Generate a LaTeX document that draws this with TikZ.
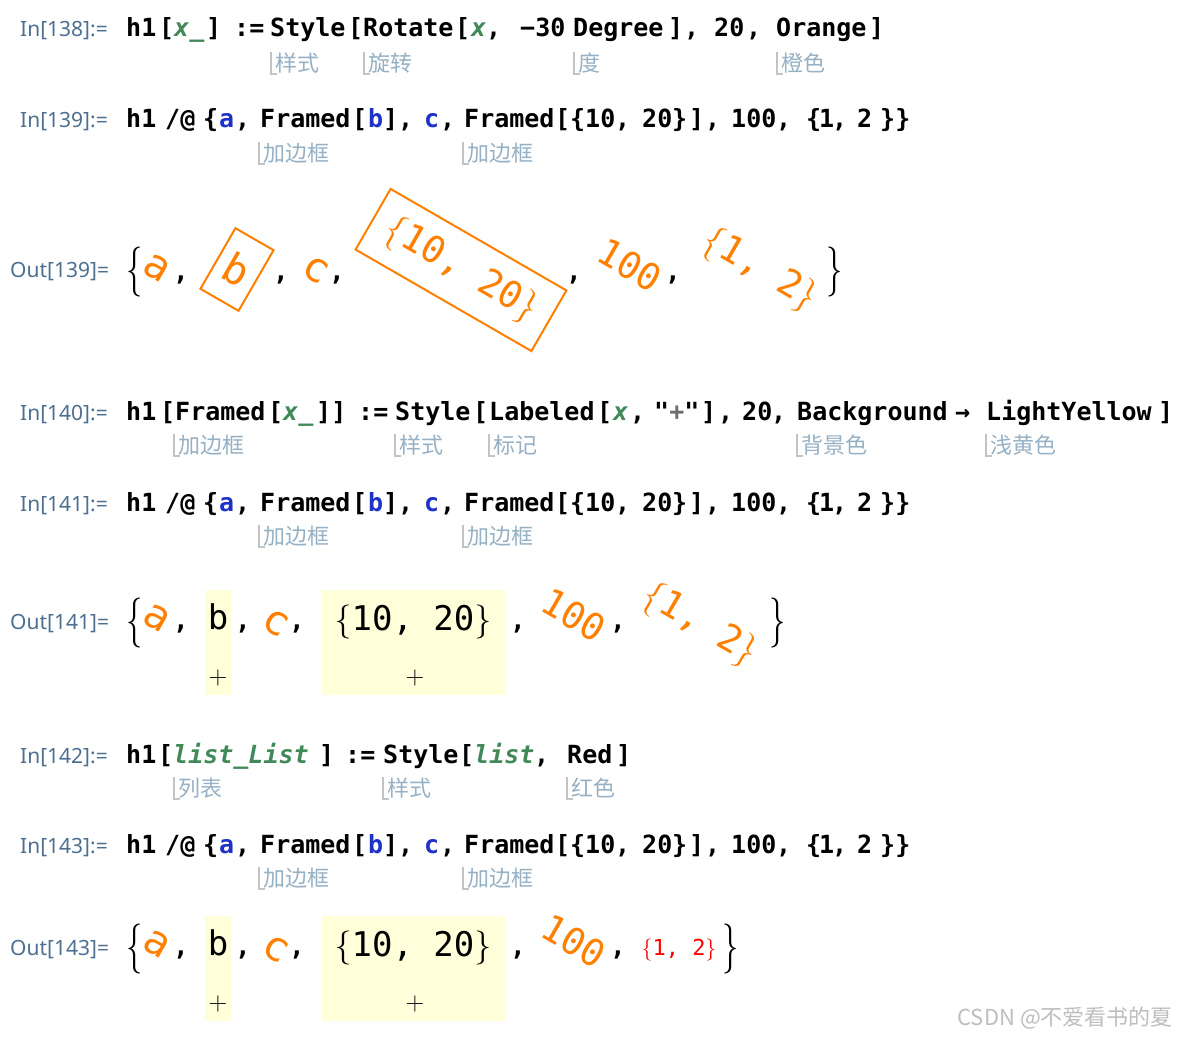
\documentclass[tikz,border=0pt]{standalone}
\usepackage{fontspec}
\newfontfamily\codefont{DejaVu Sans Mono}[BoldFont={DejaVu Sans Mono Bold}, ItalicFont={DejaVu Sans Mono Oblique}, BoldItalicFont={DejaVu Sans Mono Bold Oblique}]
\newfontfamily\labelfont{Noto Sans}
\newfontfamily\cjkfont{Noto Sans CJK SC}

\definecolor{vorange}{RGB}{255,128,0}
\definecolor{vyellow}{RGB}{255,255,217}
\definecolor{vred}{RGB}{255,0,0}
\definecolor{vgreen}{RGB}{66,137,90}
\definecolor{vblue}{RGB}{30,50,200}
\definecolor{lblblue}{RGB}{77,112,145}
\definecolor{notegray}{RGB}{150,176,196}
\definecolor{bargray}{RGB}{195,195,195}
\definecolor{plusgray}{RGB}{110,110,110}

\tikzset{
  code/.style={font={\codefont\bfseries\fontsize{25}{28}\selectfont}, anchor=base west, inner sep=0pt},
  patvar/.style={code, font={\codefont\bfseries\itshape\fontsize{25}{28}\selectfont}, text=vgreen},
  symvar/.style={code, text=vblue},
  cellLabel/.style={font={\labelfont\fontsize{21}{24}\selectfont}, text=lblblue, anchor=base west, inner sep=0pt},
  noteText/.style={font={\cjkfont\fontsize{22}{24}\selectfont}, text=notegray, anchor=west, inner sep=0pt},
  notebar/.style={draw=bargray, line width=2.5pt},
  outtxt/.style={font={\codefont\fontsize{34}{36}\selectfont}, inner sep=0pt},
  turned/.style={font={\codefont\fontsize{37}{40}\selectfont}, inner sep=0pt, text=vorange, rotate=-30},
  bigletter/.style={turned, font={\codefont\fontsize{41}{44}\selectfont}},
  orangebox/.style={draw=vorange, line width=2pt, minimum width=44pt, minimum height=70pt},
  listcomma/.style={font={\codefont\bfseries\fontsize{26}{28}\selectfont}, anchor=base, inner sep=0pt},
  bigbrace/.style={font={\rmfamily\fontsize{50}{50}\selectfont}, inner sep=0pt, xscale=0.65},
  plussign/.style={font={\rmfamily\fontsize{26}{26}\selectfont}, inner sep=0pt},
  watermark/.style={font={\cjkfont\fontsize{22}{24}\selectfont}, text={rgb,255:red,190;green,190;blue,190}, anchor=east, inner sep=0pt}
}

\newcommand{\drawNote}[4]{
   	\draw[notebar] (#2,#3-11) |- (#2+6,#3+11);
   	\node[noteText] (#1) at (#2+4,#3) {#4};
}
\newcommand{\obr}{{\rmfamily\{}}
\newcommand{\cbr}{{\rmfamily\}}}

\begin{document}
\begin{tikzpicture}[x=1pt,y=-1pt]
%%%%%%%%%%%%%%%%%%

\fill[white] (0,0) rectangle (1177,1038);
\useasboundingbox (0,0) rectangle (1177,1038);

%In[138]
\node[cellLabel] (in138) at (20,37) {In[138]:=};
\foreach \x/\t [count=\i] in {126/h1,159/[,206/],234/{:=},270/Style,348/[,363/Rotate,455/[,486/{,},520/−30,573/Degree,668/],684/{,},714/20,746/{,},776/Orange,869/]}
	\node[code] (r138-\i) at (\x,37) {\t};
\node[patvar] (r138-x1) at (174,37) {x\_};
\node[patvar] (r138-x2) at (471,37) {x};
\drawNote{n138-1}{271}{63}{样式}
\drawNote{n138-2}{364}{63}{旋转}
\drawNote{n138-3}{574}{63}{度}
\drawNote{n138-4}{777}{63}{橙色}

%In[139], In[141], In[143]
\foreach \y/\n in {128/139,511/141,853/143}
{
	\node[cellLabel] (in\n) at (20,\y) {In[\n]:=};
	\foreach \x/\t [count=\i] in {126/h1,165/{/@},203/\{,235/{,},260/Framed,352/[,383/],398/{,},440/{,},464/Framed,555/[,570/\{,585/10,615/{,},642/20,672/\},689/],705/{,},731/100,776/{,},806/\{,819/1,832/{,},857/2,880/\}\}}
		\node[code] (r\n-\i) at (\x,\y) {\t};
	\node[symvar] (r\n-a) at (219,\y) {a};
	\node[symvar] (r\n-b) at (368,\y) {b};
	\node[symvar] (r\n-c) at (424,\y) {c};
	\drawNote{n\n-1}{259}{\y+25}{加边框}
	\drawNote{n\n-2}{463}{\y+25}{加边框}
}

%Out[139]
\node[cellLabel] (out139) at (10,277) {Out[139]=};
\node[bigbrace] (o139-l) at (135,272) {\{};
\node[bigletter] (o139-a) at (157,268) {a};
\node[listcomma] (o139-s1) at (181,280) {,};
\node[bigletter, orangebox] (o139-b) at (237,269.5) {b};
\node[listcomma] (o139-s2) at (281,280) {,};
\node[bigletter] (o139-c) at (316,270) {c};
\node[listcomma] (o139-s3) at (337,280) {,};
\node[turned, orangebox, minimum width=203pt] (o139-f) at (461,270) {\obr10, 20\cbr};
\node[listcomma] (o139-s4) at (574,280) {,};
\node[turned] (o139-h) at (630,265) {100};
\node[listcomma] (o139-s5) at (673,280) {,};
\node[turned] (o139-p) at (760,270) {\obr1, 2\cbr};
\node[bigbrace] (o139-r) at (835,272) {\}};

%In[140]
\node[cellLabel] (in140) at (20,420) {In[140]:=};
\foreach \x/\t [count=\i] in {126/h1,160/[,175/Framed,268/[,316/{]]},358/{:=},395/Style,473/[,489/Labeled,597/[,630/{,},654/{"\textcolor{plusgray}{+}"},701/],718/{,},742/20,771/{,},797/Background,955/→,986/LightYellow,1158/]}
	\node[code] (r140-\i) at (\x,420) {\t};
\node[patvar] (r140-x1) at (283,420) {x\_};
\node[patvar] (r140-x2) at (613,420) {x};
\drawNote{n140-1}{174}{445}{加边框}
\drawNote{n140-2}{395}{445}{样式}
\drawNote{n140-3}{489}{445}{标记}
\drawNote{n140-4}{797}{445}{背景色}
\drawNote{n140-5}{986}{445}{浅黄色}

%Out[141], Out[143]
\foreach \y/\n in {629/141,955/143}
{
	\fill[vyellow] (205,\y-39) rectangle (231,\y+66);
	\fill[vyellow] (322,\y-39) rectangle (505,\y+66);
	\node[cellLabel] (out\n) at (10,\y) {Out[\n]=};
	\node[bigbrace] (o\n-l) at (135,\y-6) {\{};
	\node[bigletter] (o\n-a) at (157,\y-11) {a};
	\node[listcomma] (o\n-s1) at (181,\y) {,};
	\node[outtxt, anchor=base] (o\n-b) at (218,\y) {b};
	\node[plussign] (o\n-bp) at (218,\y+49) {+};
	\node[listcomma] (o\n-s2) at (243,\y) {,};
	\node[bigletter] (o\n-c) at (276,\y-6) {c};
	\node[listcomma] (o\n-s3) at (297,\y) {,};
	\node[outtxt, anchor=base] (o\n-f) at (413,\y+1) {\obr10, 20\cbr};
	\node[plussign] (o\n-fp) at (415,\y+49) {+};
	\node[listcomma] (o\n-s4) at (518,\y) {,};
	\node[turned] (o\n-h) at (574,\y-14) {100};
	\node[listcomma] (o\n-s5) at (618,\y) {,};
}
\node[turned] (o141-p) at (700,625) {\obr1, 2\cbr};
\node[bigbrace] (o141-r) at (778,623) {\}};

%In[142]
\node[cellLabel] (in142) at (20,763) {In[142]:=};
\foreach \x/\t [count=\i] in {126/h1,158/[,319/],345/{:=},383/Style,459/[,534/{,},567/Red,616/]}
	\node[code] (r142-\i) at (\x,763) {\t};
\node[patvar] (r142-x1) at (173,763) {list\_List};
\node[patvar] (r142-x2) at (474,763) {list};
\drawNote{n142-1}{174}{788}{列表}
\drawNote{n142-2}{383}{788}{样式}
\drawNote{n142-3}{567}{788}{红色}

%Out[143] red list
\node[font={\codefont\fontsize{22}{24}\selectfont}, text=vred, anchor=base, inner sep=0pt] (o143-p) at (679,955) {\obr1, 2\cbr};
\node[bigbrace] (o143-r) at (731,949) {\}};

\node[watermark] (wm) at (1173,1018) {CSDN @不爱看书的夏};

\end{tikzpicture}
\end{document}
